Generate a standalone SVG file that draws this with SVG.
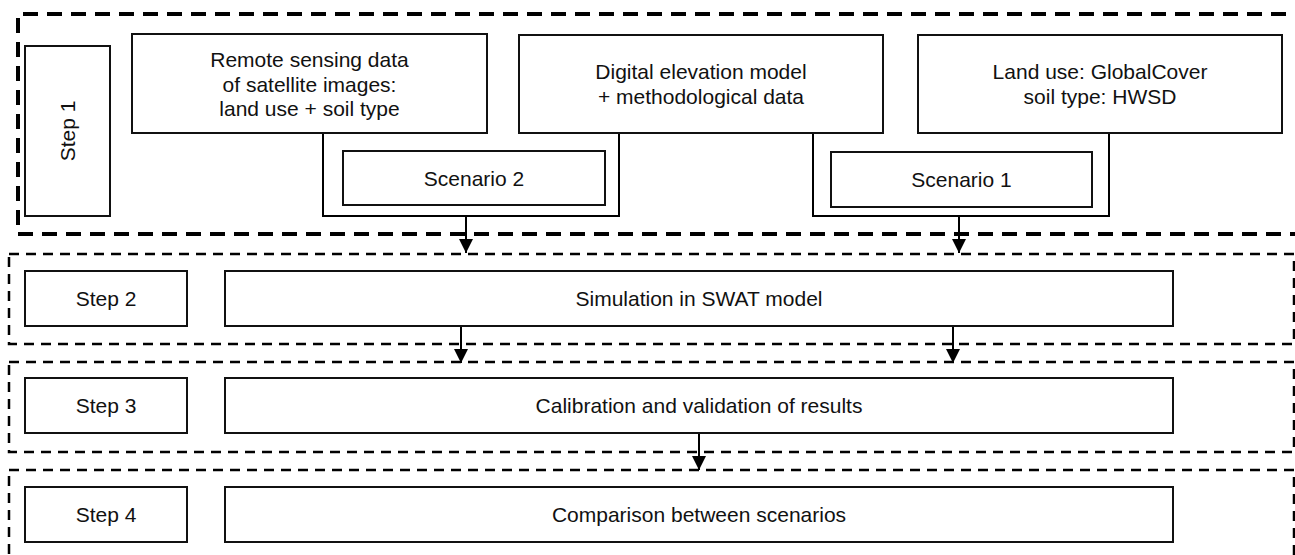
<svg xmlns="http://www.w3.org/2000/svg" width="1295" height="555" viewBox="0 0 1295 555">
<style>
.box{fill:#fff;stroke:#111;stroke-width:2}
.grp1{fill:none;stroke:#000;stroke-width:4;stroke-dasharray:15 9}
.grp{fill:none;stroke:#000;stroke-width:2.5;stroke-dasharray:10 7}
.t{font-family:"Liberation Sans",Arial,sans-serif;font-size:21px;fill:#111;text-anchor:middle}
.ln{fill:none;stroke:#000;stroke-width:2}
</style>
<defs>
<marker id="ah" viewBox="0 0 10 10" refX="10" refY="5" markerWidth="7" markerHeight="7" markerUnits="strokeWidth" orient="auto">
<path d="M0,0 L10,5 L0,10 Z" fill="#000"/>
</marker>
</defs>
<rect width="1295" height="555" fill="#fff"/>
<g id="groups">
<path class="grp1" d="M1310,14 H18 V234 H1310"/>
<rect class="grp" x="9" y="254" width="1285" height="90"/>
<rect class="grp" x="9" y="362" width="1285" height="90"/>
<rect class="grp" x="9" y="470" width="1285" height="100"/>
</g>
<g id="connectors">
<polyline class="ln" points="323,133 323,216 619,216 619,133"/>
<polyline class="ln" points="813,134 813,216 1109,216 1109,134"/>
<line class="ln" x1="466" y1="216" x2="466" y2="253" marker-end="url(#ah)"/>
<line class="ln" x1="959" y1="216" x2="959" y2="253" marker-end="url(#ah)"/>
<line class="ln" x1="461" y1="326" x2="461" y2="363" marker-end="url(#ah)"/>
<line class="ln" x1="953" y1="326" x2="953" y2="363" marker-end="url(#ah)"/>
<line class="ln" x1="699" y1="433" x2="699" y2="470" marker-end="url(#ah)"/>
</g>
<g id="step1">
<rect class="box" x="25" y="46" width="85" height="170"/>
<text class="t" transform="translate(75,131) rotate(-90)">Step 1</text>
</g>
<g id="remote">
<rect class="box" x="132" y="34" width="355" height="99"/>
<text class="t" x="309.5" y="67">Remote sensing data</text>
<text class="t" x="309.5" y="92">of  satellite images:</text>
<text class="t" x="309.5" y="116">land use + soil type</text>
</g>
<g id="dem">
<rect class="box" x="519" y="35" width="364" height="98"/>
<text class="t" x="701" y="79">Digital elevation model</text>
<text class="t" x="701" y="104">+ methodological data</text>
</g>
<g id="landuse">
<rect class="box" x="918" y="35" width="364" height="98"/>
<text class="t" x="1100" y="79">Land use: GlobalCover</text>
<text class="t" x="1100" y="104">soil type: HWSD</text>
</g>
<g id="scenario2">
<rect class="box" x="343" y="151" width="262" height="54"/>
<text class="t" x="474" y="185.5">Scenario 2</text>
</g>
<g id="scenario1">
<rect class="box" x="831" y="152" width="261" height="55"/>
<text class="t" x="961.5" y="187">Scenario 1</text>
</g>
<g id="step2">
<rect class="box" x="25" y="271" width="162" height="55"/>
<text class="t" x="106" y="306">Step 2</text>
</g>
<g id="simulation">
<rect class="box" x="225" y="271" width="948" height="55"/>
<text class="t" x="699" y="306">Simulation in SWAT model</text>
</g>
<g id="step3">
<rect class="box" x="25" y="378" width="162" height="55"/>
<text class="t" x="106" y="413">Step 3</text>
</g>
<g id="calibration">
<rect class="box" x="225" y="378" width="948" height="55"/>
<text class="t" x="699" y="413">Calibration and validation of results</text>
</g>
<g id="step4">
<rect class="box" x="25" y="487" width="162" height="55"/>
<text class="t" x="106" y="522">Step 4</text>
</g>
<g id="comparison">
<rect class="box" x="225" y="487" width="948" height="55"/>
<text class="t" x="699" y="522">Comparison between scenarios</text>
</g>
</svg>
